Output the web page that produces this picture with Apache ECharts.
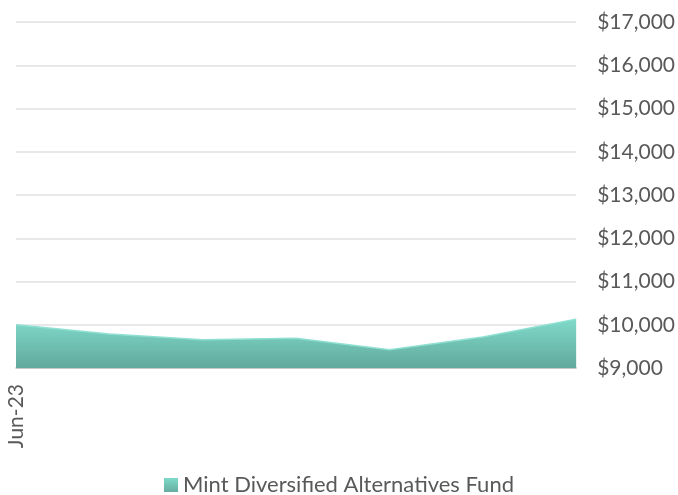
<!DOCTYPE html>
<html>
<head>
<meta charset="utf-8">
<script src="https://cdn.jsdelivr.net/npm/echarts@6/dist/echarts.min.js"></script>
<style>html,body{margin:0;padding:0;background:#fff;}#c{width:678px;height:495px;}</style>
</head>
<body>
<div id="c"></div>
<script>
const categories = ['Jun-23','Jul-23','Aug-23','Sep-23','Oct-23','Nov-23','Dec-23'];
const fundValues = [10000, 9785, 9655, 9690, 9420, 9715, 10130];
const seriesName = 'Mint Diversified Alternatives Fund';
const yMin = 9000, yMax = 17000, yStep = 1000;

const chart = echarts.init(document.getElementById('c'));
const font = 'Lato, "Open Sans", sans-serif';
chart.setOption({
  animation: false,
  grid: {left: 16, right: 101, top: 22, bottom: 127, containLabel: false},
  legend: {
    top: 474, left: 'center', itemWidth: 14, itemHeight: 14, itemGap: 6,
    icon: 'rect', padding: 0,
    textStyle: {fontFamily: font, fontSize: 22, color: '#595959'},
    data: [{name: seriesName, itemStyle: {color: new echarts.graphic.LinearGradient(0,0,0,1,[{offset:0,color:'#7FDACA'},{offset:1,color:'#66ADA0'}])}}]
  },
  xAxis: {
    type: 'category', data: categories, boundaryGap: false,
    axisLine: {lineStyle: {color: '#BFBFBF', width: 1.5}},
    axisTick: {show: false},
    axisLabel: {
      rotate: 90, interval: (i) => i === 0, margin: 16,
      fontFamily: font, fontSize: 21, color: '#595959'
    },
    splitLine: {show: false}
  },
  yAxis: {
    type: 'value', position: 'right', min: yMin, max: yMax, interval: yStep,
    axisLine: {show: false}, axisTick: {show: false},
    axisLabel: {
      margin: 21, fontFamily: font, fontSize: 21, color: '#595959',
      formatter: v => '$' + v.toLocaleString('en-US')
    },
    splitLine: {lineStyle: {color: '#E0E0E0', width: 1.5}}
  },
  series: [{
    name: seriesName, type: 'line', data: fundValues, symbol: 'none',
    lineStyle: {color: '#8FE0D2', width: 1.5},
    areaStyle: {
      origin: 'start',
      color: new echarts.graphic.LinearGradient(0,0,0,1,[{offset:0,color:'#7FDACA'},{offset:1,color:'#62A99C'}]),
      opacity: 1
    }
  }]
});
</script>
</body>
</html>
